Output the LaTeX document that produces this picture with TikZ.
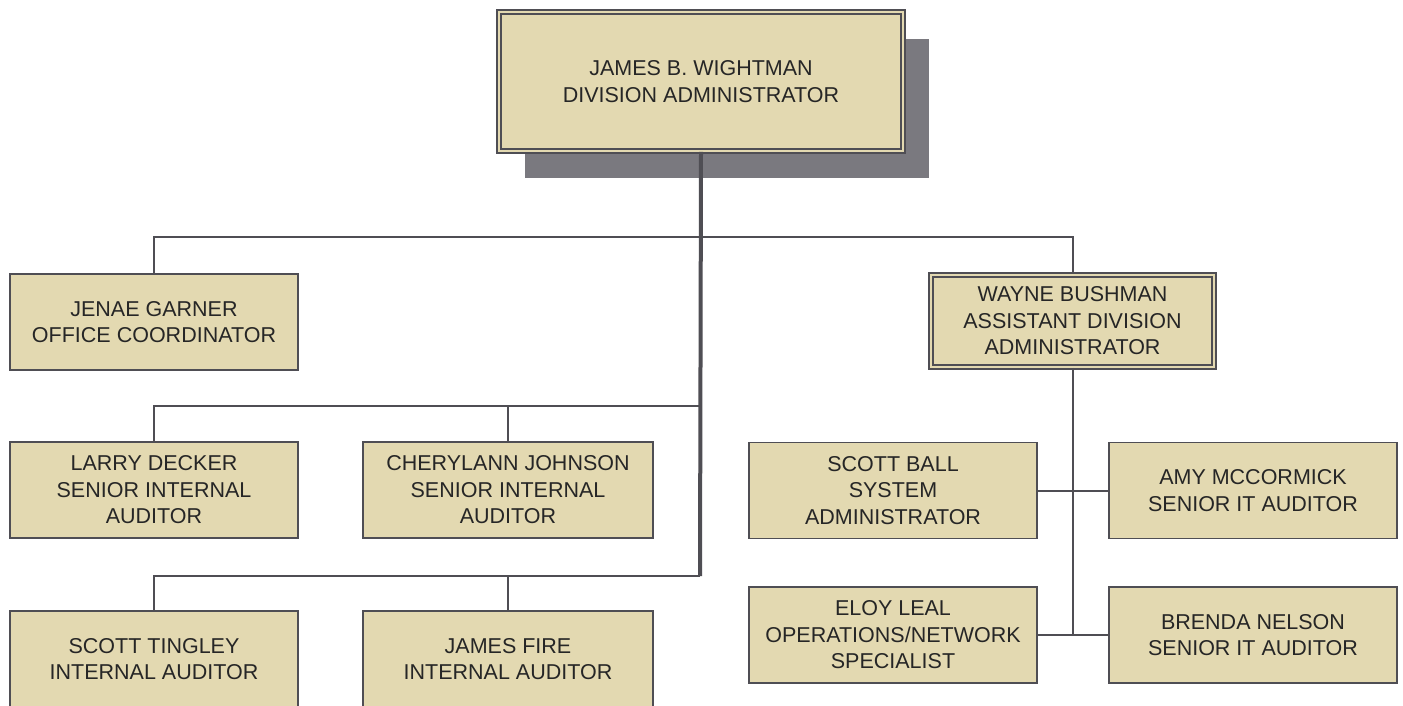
\documentclass[tikz,border=0pt]{standalone}
\usepackage{fontspec}
\setmainfont{Liberation Sans}
\usepackage{tikz}
\usetikzlibrary{shadows}
\definecolor{boxfill}{HTML}{E3D9B1}
\definecolor{edge}{HTML}{4F4E54}
\definecolor{shade}{HTML}{7A797F}

\begin{document}
\begin{tikzpicture}[x=1pt,y=-1pt,
    post/.style={draw=edge,line width=1.8pt,fill=boxfill,align=center,
      font=\fontsize{21.5}{26.5}\selectfont,text=black!85,inner sep=0pt,
      minimum width=288pt,minimum height=96pt},
    head/.style={post,draw=edge,double=boxfill,double distance=2.6pt,line width=1.6pt},
    link/.style={draw=edge,line width=2pt},
    trunk/.style={draw=edge,line width=4pt}]
    \clip (0,0) rectangle (1403,705);
    \fill[white] (0,0) rectangle (1403,705);
    \node[head,minimum width=404pt,minimum height=139pt,
      drop shadow={shadow xshift=26pt,shadow yshift=-27pt,opacity=1,fill=shade}]
      (chief) at (701,81.5) {JAMES B. WIGHTMAN\\DIVISION ADMINISTRATOR};
    \node[post] (jenae) at (154,322) {JENAE GARNER\\OFFICE COORDINATOR};
    \node[head,minimum width=283pt,minimum height=92pt] (wayne) at (1072.5,321)
      {WAYNE BUSHMAN\\ASSISTANT DIVISION\\ADMINISTRATOR};
    \node[post] (larry) at (154,490) {LARRY DECKER\\SENIOR INTERNAL\\AUDITOR};
    \node[post,minimum width=290pt] (cheryl) at (508,490) {CHERYLANN JOHNSON\\SENIOR INTERNAL\\AUDITOR};
    \node[post] (tingley) at (154,659) {SCOTT TINGLEY\\INTERNAL AUDITOR};
    \node[post,minimum width=290pt] (fire) at (508,659) {JAMES FIRE\\INTERNAL AUDITOR};
    \node[post] (ball) at (893,490.5) {SCOTT BALL\\SYSTEM\\ADMINISTRATOR};
    \node[post] (amy) at (1253,490.5) {AMY MCCORMICK\\SENIOR IT AUDITOR};
    \node[post] (eloy) at (893,635) {ELOY LEAL\\OPERATIONS/NETWORK\\SPECIALIST};
    \node[post] (brenda) at (1253,635) {BRENDA NELSON\\SENIOR IT AUDITOR};
    \coordinate (mid) at (700,406);
    \coordinate (low) at (700,576);
    \path[link]
    (jenae.north) -- ++(0,-36) -| (wayne.north)
    (mid) -| (larry.north)
    (cheryl.north) |- (mid)
    (low) -| (tingley.north)
    (fire.north) |- (low)
    (wayne.south) -- (wayne.south |- eloy.east)
    (ball.east) -- (amy.west)
    (eloy.east) -- (brenda.west);
    \path[trunk] (chief.south) -- (low);
\end{tikzpicture}
\end{document}
